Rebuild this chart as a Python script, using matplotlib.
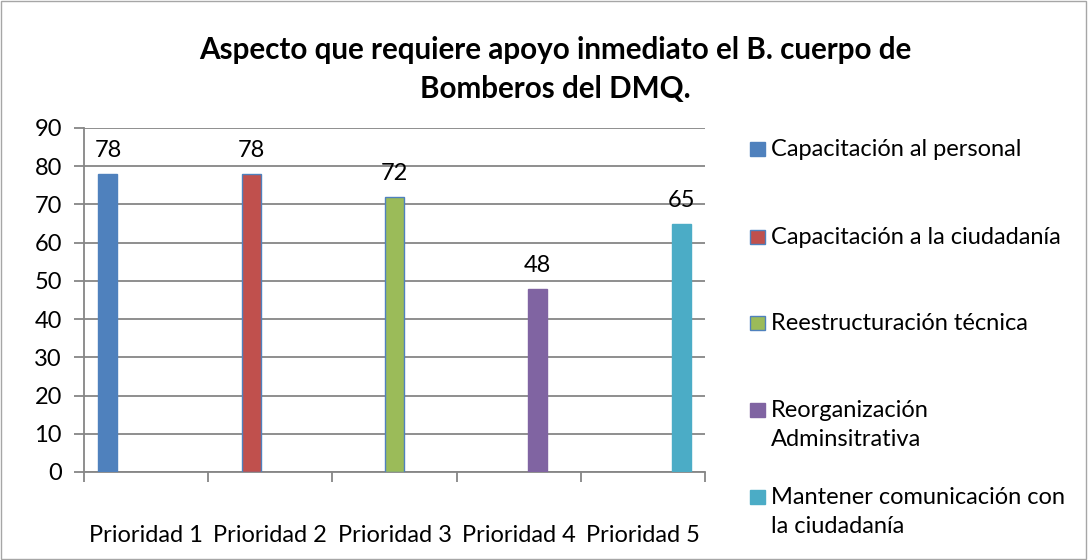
import numpy as np
import matplotlib
matplotlib.use("Agg")
import matplotlib.pyplot as plt
from matplotlib.patches import Rectangle

plt.rcParams['font.family'] = ['Lato', 'DejaVu Sans']

# Data
categories = ["Prioridad 1", "Prioridad 2", "Prioridad 3", "Prioridad 4", "Prioridad 5"]
series_names = ["Capacitación al personal", "Capacitación a la ciudadanía",
                "Reestructuración técnica", "Reorganización\nAdminsitrativa",
                "Mantener comunicación con\nla ciudadanía"]
nan = np.nan
capacitacion_personal = [78, nan, nan, nan, nan]
capacitacion_ciudadania = [nan, 78, nan, nan, nan]
reestructuracion = [nan, nan, 72, nan, nan]
reorganizacion = [nan, nan, nan, 48, nan]
comunicacion = [nan, nan, nan, nan, 65]
series_values = [capacitacion_personal, capacitacion_ciudadania, reestructuracion,
                 reorganizacion, comunicacion]
yticks = [0, 10, 20, 30, 40, 50, 60, 70, 80, 90]

colors = ["#4F81BD", "#C0504D", "#9BBB59", "#8064A2", "#4BACC6"]
edges = [None, "#4F81BD", "#4F81BD", None, None]
grid_c = "#868686"
fs = 17

fig = plt.figure(figsize=(10.88, 5.6), dpi=100)
ax = fig.add_axes([84 / 1088, 1 - 472 / 560, (705 - 84) / 1088, (472 - 128) / 560])

x = np.arange(len(categories))
n = len(series_values)
w = 1 / (n + 1.5)
for i, vals in enumerate(series_values):
    bars = ax.bar(x + (i - (n - 1) / 2) * w, vals, w, color=colors[i],
                  edgecolor=edges[i] if edges[i] else colors[i], linewidth=1, zorder=3)
    labs = ["" if np.isnan(v) else f"{v:g}" for v in vals]
    ax.bar_label(bars, labels=labs, padding=9, fontsize=fs, color="black")

ax.set_xlim(-0.5, len(categories) - 0.5)
ax.set_ylim(0, 90)
ax.set_yticks(yticks)
ax.yaxis.grid(True, color=grid_c, linewidth=1.3, zorder=0)
ax.set_xticks(np.arange(len(categories) + 1) - 0.5)
ax.set_xticklabels([])
ax.set_xticks(x, minor=True)
ax.set_xticklabels(categories, minor=True, fontsize=fs)
ax.tick_params(axis="x", which="major", length=7, color=grid_c, width=1.3)
ax.tick_params(axis="x", which="minor", length=0, pad=38)
ax.tick_params(axis="y", length=7, color=grid_c, width=1.3, labelsize=fs, pad=9)
for s in ["top", "right"]:
    ax.spines[s].set_visible(False)
for s in ["left", "bottom"]:
    ax.spines[s].set_color(grid_c)
    ax.spines[s].set_linewidth(1.3)

fig.text(0.51, 1 - 50 / 560, "Aspecto que requiere apoyo inmediato el B. cuerpo de",
         ha="center", va="center", fontsize=21.3, fontweight="bold")
fig.text(0.51, 1 - 89 / 560, "Bomberos del DMQ.",
         ha="center", va="center", fontsize=21.3, fontweight="bold")

# Legend
leg_y = [149, 237, 323, 410, 497]
for i, name in enumerate(series_names):
    yc = 1 - leg_y[i] / 560
    fig.patches.append(Rectangle((750 / 1088, yc - 7 / 560), 15 / 1088, 14 / 560,
                                 transform=fig.transFigure, facecolor=colors[i],
                                 edgecolor=edges[i] if edges[i] else colors[i], lw=1))
    fig.text(771 / 1088, yc + 10 / 560, name, ha="left", va="top", fontsize=fs,
             linespacing=1.45)

fig.patches.append(Rectangle((0.0005, 0.001), 0.998, 0.997, transform=fig.transFigure,
                             facecolor="none", edgecolor="#A6A6A6", lw=1))

fig.savefig("out.png", dpi=100)
